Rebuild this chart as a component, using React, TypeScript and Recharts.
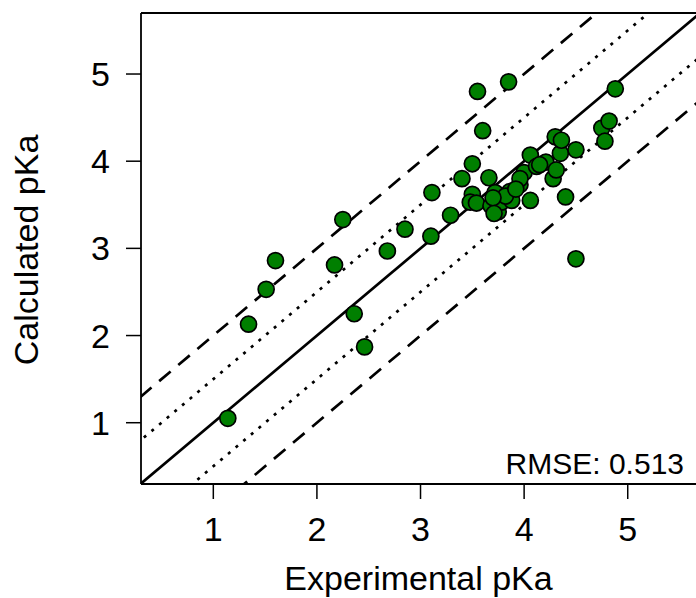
import React from 'react';
import {
  ScatterChart,
  Scatter,
  XAxis,
  YAxis,
  ReferenceLine,
} from 'recharts';

// experimental vs calculated pKa
const expPka = [
  1.14, 1.34, 1.51, 1.60, 2.17, 2.25, 2.36, 2.46, 2.68, 2.85,
  3.10, 3.11, 3.29, 3.40, 3.50, 3.55, 3.85, 3.60, 3.66, 3.50,
  3.48, 3.54, 3.72, 3.68, 3.75, 3.78, 3.86, 3.88, 3.96, 4.00,
  4.06, 4.06, 4.12, 4.21, 4.28, 4.31, 4.35, 4.30, 4.36, 4.40,
  4.50, 4.50, 4.75, 4.78, 4.82, 4.88, 3.96, 3.82, 3.70, 3.92,
  4.15, 3.71,
];
const calcPka = [
  1.05, 2.13, 2.53, 2.86, 2.81, 3.33, 2.25, 1.87, 2.97, 3.22,
  3.14, 3.64, 3.38, 3.80, 3.97, 4.80, 4.91, 4.35, 3.81, 3.62,
  3.53, 3.52, 3.64, 3.49, 3.42, 3.53, 3.65, 3.55, 3.73, 3.87,
  3.55, 4.07, 3.94, 3.99, 3.80, 3.90, 4.09, 4.28, 4.24, 3.59,
  4.13, 2.88, 4.38, 4.23, 4.46, 4.83, 3.80, 3.60, 3.58, 3.68,
  3.96, 3.40,
];
const xTicks = [1, 2, 3, 4, 5];
const yTicks = [1, 2, 3, 4, 5];
const rmseLabel = 'RMSE: 0.513';

const xDomain: [number, number] = [0.302, 5.659];
const yDomain: [number, number] = [0.297, 5.70];

const FONT = '"Liberation Sans", Arial, Helvetica, sans-serif';

const points = expPka.map((x, i) => ({ x, y: calcPka[i] }));

// y = x + offset, drawn across the whole plot and clipped
function diag(offset: number) {
  return [
    { x: -1, y: -1 + offset },
    { x: 7, y: 7 + offset },
  ];
}

function Dot(props: any) {
  const { cx, cy } = props;
  return <circle cx={cx} cy={cy} r={8} fill="#007f00" stroke="#000" strokeWidth={1.7} />;
}

export default function App() {
  return (
    <div style={{ position: 'absolute', left: 0, top: 0, width: 696, height: 598, background: '#fff', fontFamily: FONT }}>
      <ScatterChart width={696} height={598} margin={{ top: 13, right: 0, bottom: 0, left: 0 }}>
        <XAxis
          type="number"
          dataKey="x"
          domain={xDomain}
          ticks={xTicks}
          allowDataOverflow
          height={114}
          tickSize={15}
          tickMargin={18}
          tick={{ fill: '#000', fontSize: 34, fontFamily: FONT }}
          axisLine={{ stroke: '#000', strokeWidth: 1.8 }}
          tickLine={{ stroke: '#000', strokeWidth: 1.5 }}
          label={{
            value: 'Experimental pKa',
            position: 'insideBottom',
            offset: 8,
            fill: '#000',
            fontSize: 34,
            fontFamily: FONT,
          }}
        />
        <YAxis
          type="number"
          dataKey="y"
          domain={yDomain}
          ticks={yTicks}
          allowDataOverflow
          width={141}
          tickSize={15}
          tickMargin={16}
          tick={{ fill: '#000', fontSize: 34, fontFamily: FONT }}
          axisLine={{ stroke: '#000', strokeWidth: 1.8 }}
          tickLine={{ stroke: '#000', strokeWidth: 1.5 }}
          label={{
            content: () => (
              <text
                x={38}
                y={250}
                transform="rotate(-90 38 250)"
                textAnchor="middle"
                fill="#000"
                fontSize={34}
                fontFamily={FONT}
              >
                Calculated pKa
              </text>
            ),
          }}
        />
        {/* top side of the box */}
        <ReferenceLine y={yDomain[1]} stroke="#000" strokeWidth={1.8} />
        <ReferenceLine segment={diag(-1)} ifOverflow="hidden" stroke="#000" strokeWidth={2.7} strokeDasharray="15 10" />
        <ReferenceLine segment={diag(-0.5)} ifOverflow="hidden" stroke="#000" strokeWidth={2.7} strokeDasharray="3 7" />
        <ReferenceLine segment={diag(0)} ifOverflow="hidden" stroke="#000" strokeWidth={2.7} />
        <ReferenceLine segment={diag(0.5)} ifOverflow="hidden" stroke="#000" strokeWidth={2.7} strokeDasharray="3 7" />
        <ReferenceLine segment={diag(1)} ifOverflow="hidden" stroke="#000" strokeWidth={2.7} strokeDasharray="15 10" />
        <Scatter data={points} shape={<Dot />} isAnimationActive={false} />
        <text x={684} y={474} textAnchor="end" fill="#000" fontSize={30} fontFamily={FONT}>
          {rmseLabel}
        </text>
      </ScatterChart>
    </div>
  );
}
